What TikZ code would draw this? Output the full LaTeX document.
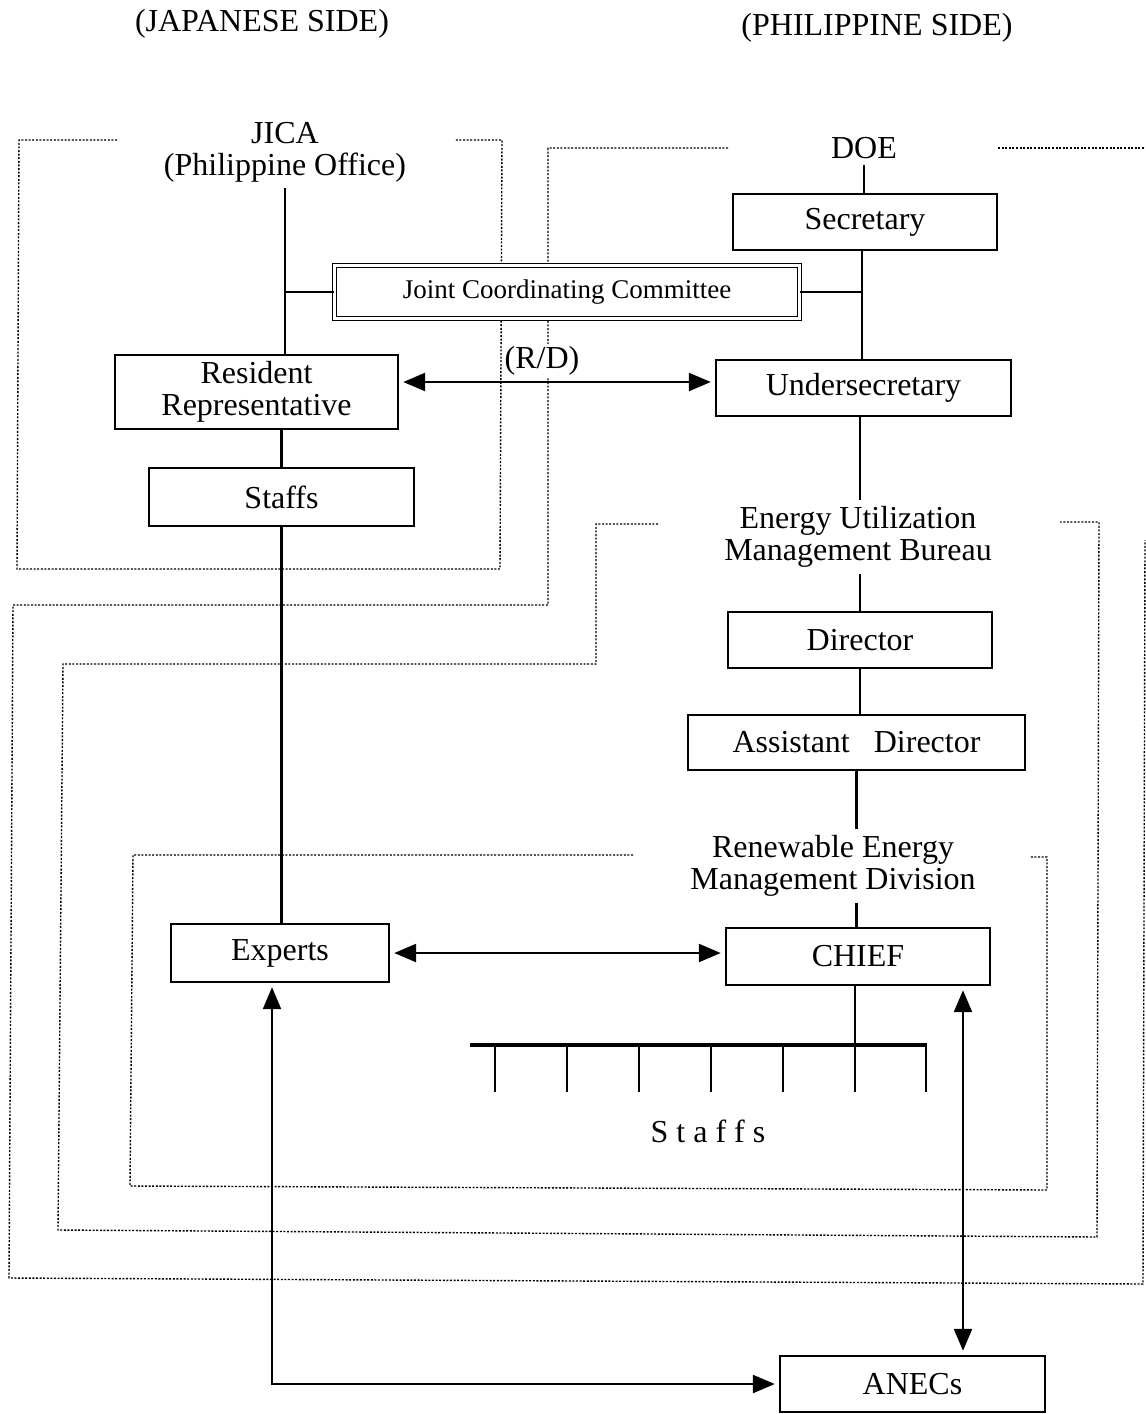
\documentclass[tikz,border=0pt]{standalone}
\usepackage{fontspec}
\setmainfont{Liberation Serif}
\usetikzlibrary{arrows.meta}
\begin{document}
\begin{tikzpicture}[x=0.5pt,y=-0.5pt,
  box/.style={draw,fill=white,line width=1.2pt,inner sep=0pt,align=center,font=\fontsize{16pt}{16pt}\selectfont},
  lbl/.style={inner sep=3pt,align=center,font=\fontsize{16pt}{16pt}\selectfont},
  conn/.style={line width=1.2pt},
  dbl/.style={line width=1.2pt,shorten <=2pt,shorten >=2pt,{Triangle[length=11pt,width=9pt]}-{Triangle[length=11pt,width=9pt]}},
  frame/.style={line width=0.7pt,dash pattern=on 1pt off 0.8pt}]
\useasboundingbox (0,0) rectangle (1146,1414);

% dotted frames
\draw[frame] (117,140) -- (19,140) -- (17,569) -- (500,569) -- (502,140) -- (455,140);
\draw[frame] (728,148) -- (548,148) -- (548,605) -- (13,605) -- (9,1278) -- (1143,1284) -- (1145,540);
\draw[frame] (998,148) -- (1146,148);
\draw[frame] (658,524) -- (596,524) -- (596,664) -- (63,664) -- (58,1230) -- (1097,1237) -- (1099,522) -- (1060,522);
\draw[frame] (633,855) -- (133,855) -- (130,1186) -- (1047,1190) -- (1047,857) -- (1030,857);

% titles
\node[lbl] (jside) at (262,24) {(JAPANESE SIDE)};
\node[lbl] (pside) at (877,28) {(PHILIPPINE SIDE)};

% text labels
\node[lbl] (jica) at (285,152) {JICA\\(Philippine Office)};
\node[lbl] (doe) at (864,148) {DOE};
\node[lbl] (eumb) at (858,537) {Energy Utilization\\Management Bureau};
\node[lbl] (remd) at (833,866) {Renewable Energy\\Management Division};
\node[lbl] (stl) at (708,1131) {S\hspace{4pt}t\hspace{4pt}a\hspace{4pt}f\hspace{4pt}f\hspace{4pt}s};

% boxes
\node[box,minimum width=132pt,minimum height=28pt] (sec) at (865,222) {Secretary};
\node[box,line width=0.6pt,double,double distance=1.4pt,minimum width=232.4pt,minimum height=26.4pt,font=\fontsize{13.5pt}{14pt}\selectfont] (jcc) at (567,292) {Joint Coordinating Committee};
\node[box,minimum width=141.5pt,minimum height=37pt] (rr) at (256.5,392) {Resident\\Representative};
\node[box,minimum width=147.5pt,minimum height=28pt] (under) at (863.5,388) {Undersecretary};
\node[box,minimum width=132.5pt,minimum height=29pt] (staffs) at (281.5,497) {Staffs};
\node[box,minimum width=132pt,minimum height=28pt] (director) at (860,640) {Director};
\node[box,minimum width=168.5pt,minimum height=27.5pt] (asst) at (856.5,742.5) {Assistant\hspace{12pt}Director};
\node[box,minimum width=109pt,minimum height=29pt] (experts) at (280,953) {Experts};
\node[box,minimum width=132pt,minimum height=28.5pt] (chief) at (858,956.5) {CHIEF};
\node[box,minimum width=132.5pt,minimum height=28pt] (anecs) at (912.5,1384) {ANECs};

\node[lbl,fill=white,inner sep=1pt] (rd) at (542,361) {(R/D)};

% connectors
\coordinate (secb) at ([xshift=-1.5pt]sec.south);
\coordinate (undb) at ([xshift=-1.75pt]under.south);
\coordinate (chb) at ([xshift=-1.5pt]chief.south);
\coordinate (tickend) at (0,1092);
\draw[conn] (jica.south) -- (jica.south |- rr.north);
\draw[conn] (jcc.west) -- (jcc.west -| jica.south);
\draw[conn] (doe.south) -- (doe.south |- sec.north);
\draw[conn] (secb) -- (secb |- under.north);
\draw[conn] (jcc.east) -- (jcc.east -| secb);
\draw[dbl] ([yshift=5pt]rr.east) -- ([yshift=5pt]rr.east -| under.west);
\draw[conn] (staffs.north |- rr.south) -- (staffs.north);
\draw[conn] (staffs.south) -- (staffs.south |- experts.north);
\draw[conn] (undb) -- (undb |- eumb.north);
\draw[conn] (director.north |- eumb.south) -- (director.north);
\draw[conn] (director.south) -- (director.south |- asst.north);
\draw[conn] (asst.south) -- (asst.south |- remd.north);
\draw[conn] (asst.south |- remd.south) -- (asst.south |- chief.north);
\draw[dbl] (experts.east) -- (experts.east -| chief.west);

% staff bar
\draw[line width=1.6pt] (470,1045) -- (927,1045);
\foreach \x in {495,567,639,711,783,926} \draw[conn] (\x,1045) -- (\x,1092);
\draw[conn] (chb) -- (chb |- tickend);

\draw[dbl] ([xshift=-4pt]experts.south) |- (anecs.west);
\draw[dbl] ([xshift=52.5pt]chief.south) -- ([xshift=52.5pt]chief.south |- anecs.north);
\end{tikzpicture}
\end{document}
